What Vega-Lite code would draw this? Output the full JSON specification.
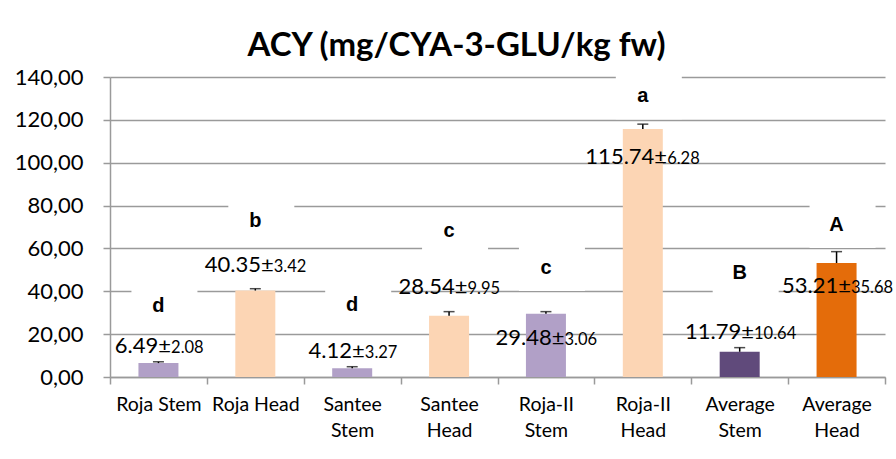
{
  "$schema": "https://vega.github.io/schema/vega-lite/v6.json",
  "autosize": "none",
  "width": 775,
  "height": 300,
  "padding": {"left": 110, "top": 77, "right": 11, "bottom": 82},
  "background": "white",
  "title": {
    "text": "ACY (mg/CYA-3-GLU/kg fw)",
    "font": "Lato",
    "fontWeight": "bold",
    "fontSize": 33,
    "color": "black",
    "anchor": "middle",
    "dx": -41,
    "baseline": "alphabetic",
    "offset": -23
  },
  "data": {
    "values": [
      {"cat": "Roja Stem", "v": 6.49, "top": 7.1, "m": "6.49±", "sd": "2.08", "letter": "d", "lb": 30.5, "vb": 11.1, "grp": "Stem"},
      {"cat": "Roja Head", "v": 40.35, "top": 41.2, "m": "40.35±", "sd": "3.42", "letter": "b", "lb": 70.1, "vb": 49.2, "grp": "Head"},
      {"cat": "Santee Stem", "v": 4.12, "top": 4.8, "m": "4.12±", "sd": "3.27", "letter": "d", "lb": 30.9, "vb": 9.1, "grp": "Stem"},
      {"cat": "Santee Head", "v": 28.54, "top": 30.5, "m": "28.54±", "sd": "9.95", "letter": "c", "lb": 65.5, "vb": 38.6, "grp": "Head"},
      {"cat": "Roja-II Stem", "v": 29.48, "top": 30.5, "m": "29.48±", "sd": "3.06", "letter": "c", "lb": 48.1, "vb": 15.0, "grp": "Stem"},
      {"cat": "Roja-II Head", "v": 115.74, "top": 118, "m": "115.74±", "sd": "6.28", "letter": "a", "lb": 128.2, "vb": 99.3, "grp": "Head"},
      {"cat": "Average Stem", "v": 11.79, "top": 13.7, "m": "11.79±", "sd": "10.64", "letter": "B", "lb": 45.6, "vb": 17.6, "grp": "AvgStem"},
      {"cat": "Average Head", "v": 53.21, "top": 58.5, "m": "53.21±", "sd": "35.68", "letter": "A", "lb": 68.1, "vb": 39.4, "grp": "AvgHead"}
    ]
  },
  "encoding": {
    "x": {
      "field": "cat",
      "type": "nominal",
      "sort": null,
      "scale": {"paddingInner": 0, "paddingOuter": 0},
      "axis": {
        "title": null,
        "labelAngle": 0,
        "tickBand": "extent",
        "tickSize": 7,
        "labelPadding": 11,
        "labelFont": "Lato",
        "labelFontSize": 19.5,
        "labelColor": "black",
        "labelLineHeight": 26,
        "labelBaseline": "top",
        "labelExpr": "indexof(datum.label, 'Roja ') == 0 ? datum.label : split(datum.label, ' ')"
      }
    }
  },
  "layer": [
    {
      "mark": {"type": "bar", "color": "white", "size": 66, "xOffset": 6, "yOffset": -28, "y2Offset": 17},
      "encoding": {
        "y": {"field": "lb", "type": "quantitative"},
        "y2": {"field": "lb"}
      }
    },
    {
      "mark": {"type": "bar", "size": 40},
      "encoding": {
        "y": {
          "field": "v",
          "type": "quantitative",
          "scale": {"domain": [0, 140]},
          "axis": {
            "title": null,
            "values": [0, 20, 40, 60, 80, 100, 120, 140],
            "grid": true,
            "tickSize": 7,
            "labelPadding": 20,
            "labelFont": "Lato",
            "labelFontSize": 22,
            "labelColor": "black",
            "labelExpr": "replace(format(datum.value, '.2f'), '.', ',')"
          }
        },
        "color": {
          "field": "grp",
          "type": "nominal",
          "scale": {"domain": ["Stem", "Head", "AvgStem", "AvgHead"], "range": ["#B1A0C7", "#FCD5B4", "#604A7B", "#E46C0A"]},
          "legend": null
        }
      }
    },
    {
      "mark": {"type": "rule", "color": "black", "strokeWidth": 1.5},
      "encoding": {
        "y": {"field": "v", "type": "quantitative"},
        "y2": {"field": "top"}
      }
    },
    {
      "mark": {"type": "tick", "color": "black", "size": 11, "thickness": 1.5},
      "encoding": {
        "y": {"field": "top", "type": "quantitative"}
      }
    },
    {
      "transform": [
        {"calculate": "48.44 + (length(datum.m) * 0.53 * 22 - length(datum.sd) * 0.5 * 16.5) / 2", "as": "off"}
      ],
      "mark": {"type": "text", "font": "Lato", "fontSize": 22, "color": "black", "align": "right", "baseline": "alphabetic"},
      "encoding": {
        "xOffset": {"field": "off", "type": "quantitative", "scale": {"domain": [0, 100], "range": [0, 100]}},
        "y": {"field": "vb", "type": "quantitative"},
        "text": {"field": "m"}
      }
    },
    {
      "transform": [
        {"calculate": "48.44 + (length(datum.m) * 0.53 * 22 - length(datum.sd) * 0.5 * 16.5) / 2", "as": "off"}
      ],
      "mark": {"type": "text", "font": "Lato", "fontSize": 16.5, "color": "black", "align": "left", "baseline": "alphabetic"},
      "encoding": {
        "xOffset": {"field": "off", "type": "quantitative", "scale": {"domain": [0, 100], "range": [0, 100]}},
        "y": {"field": "vb", "type": "quantitative"},
        "text": {"field": "sd"}
      }
    },
    {
      "mark": {"type": "text", "font": "Liberation Sans", "fontWeight": "bold", "fontSize": 20, "color": "black", "align": "center", "baseline": "alphabetic"},
      "encoding": {
        "y": {"field": "lb", "type": "quantitative"},
        "text": {"field": "letter"}
      }
    }
  ],
  "config": {
    "view": {"stroke": null},
    "axis": {
      "domainColor": "#9a9a9a",
      "domainWidth": 1.5,
      "tickColor": "#9a9a9a",
      "tickWidth": 1.5,
      "gridColor": "#9a9a9a",
      "gridWidth": 1.5
    }
  }
}
